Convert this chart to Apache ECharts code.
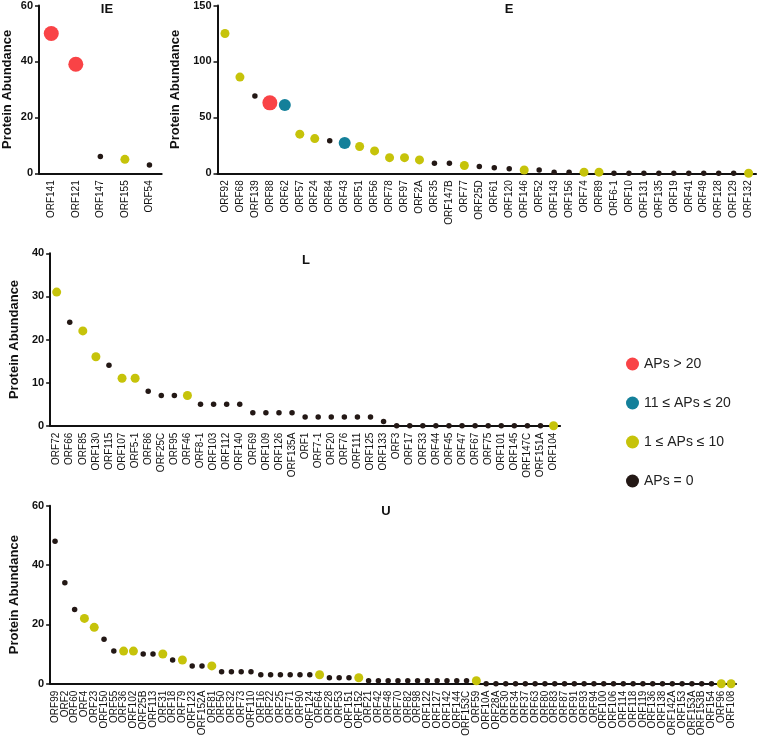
<!DOCTYPE html>
<html>
<head>
<meta charset="utf-8">
<script src="https://cdn.jsdelivr.net/npm/echarts@6/dist/echarts.min.js"></script>
<style>
html,body{margin:0;padding:0;background:#fff;}
#chart{width:757px;height:741px;}
</style>
</head>
<body>
<div id="chart"></div>
<script>
// Legend groups: 0 = APs > 20, 1 = 11 ≤ APs ≤ 20, 2 = 1 ≤ APs ≤ 10, 3 = APs = 0
const groupNames = ['APs > 20', '11 \u2264 APs \u2264 20', '1 \u2264 APs \u2264 10', 'APs = 0'];
const groupColors = ['#F94346', '#14809A', '#C6C30A', '#231815'];
const groupSizes = [15, 12, 9, 5.5];

const panelTitles = ['IE', 'E', 'L', 'U'];

const ieCats = ['ORF141', 'ORF121', 'ORF147', 'ORF155', 'ORF54'];
const ieVals = [50, 39, 6, 5, 3];
const ieGroups = [0, 0, 3, 2, 3];
const ieTicks = [0, 20, 40, 60];

const eCats = ['ORF92', 'ORF68', 'ORF139', 'ORF88', 'ORF62', 'ORF57', 'ORF24', 'ORF84', 'ORF43', 'ORF51',
  'ORF56', 'ORF78', 'ORF97', 'ORF2A', 'ORF35', 'ORF147B', 'ORF77', 'ORF25D', 'ORF61', 'ORF120',
  'ORF146', 'ORF52', 'ORF143', 'ORF156', 'ORF74', 'ORF89', 'ORF6-1', 'ORF10', 'ORF131', 'ORF135',
  'ORF19', 'ORF41', 'ORF49', 'ORF128', 'ORF129', 'ORF132'];
const eVals = [125, 86, 69, 63, 61, 35, 31, 29, 27, 24,
  20, 14, 14, 12, 9, 9, 7, 6, 5, 4,
  3, 3, 1, 1, 1, 1, 0, 0, 0, 0,
  0, 0, 0, 0, 0, 0];
const eGroups = [2, 2, 3, 0, 1, 2, 2, 3, 1, 2,
  2, 2, 2, 2, 3, 3, 2, 3, 3, 3,
  2, 3, 3, 3, 2, 2, 3, 3, 3, 3,
  3, 3, 3, 3, 3, 2];
const eTicks = [0, 50, 100, 150];

const lCats = ['ORF72', 'ORF66', 'ORF85', 'ORF130', 'ORF115', 'ORF107', 'ORF5-1', 'ORF86', 'ORF25C', 'ORF95',
  'ORF46', 'ORF8-1', 'ORF103', 'ORF112', 'ORF140', 'ORF69', 'ORF109', 'ORF126', 'ORF135A', 'ORF1',
  'ORF7-1', 'ORF20', 'ORF76', 'ORF111', 'ORF125', 'ORF133', 'ORF3', 'ORF17', 'ORF33', 'ORF44',
  'ORF45', 'ORF47', 'ORF67', 'ORF75', 'ORF101', 'ORF145', 'ORF147C', 'ORF151A', 'ORF104'];
const lVals = [31, 24, 22, 16, 14, 11, 11, 8, 7, 7,
  7, 5, 5, 5, 5, 3, 3, 3, 3, 2,
  2, 2, 2, 2, 2, 1, 0, 0, 0, 0,
  0, 0, 0, 0, 0, 0, 0, 0, 0];
const lGroups = [2, 3, 2, 2, 3, 2, 2, 3, 3, 3,
  2, 3, 3, 3, 3, 3, 3, 3, 3, 3,
  3, 3, 3, 3, 3, 3, 3, 3, 3, 3,
  3, 3, 3, 3, 3, 3, 3, 3, 2];
const lTicks = [0, 10, 20, 30, 40];

const uCats = ['ORF99', 'ORF2', 'ORF60', 'ORF4', 'ORF23', 'ORF150', 'ORF55', 'ORF36', 'ORF102', 'ORF25B',
  'ORF113', 'ORF31', 'ORF18', 'ORF79', 'ORF123', 'ORF152A', 'ORF81', 'ORF50', 'ORF32', 'ORF73',
  'ORF110', 'ORF16', 'ORF22', 'ORF25', 'ORF71', 'ORF90', 'ORF124', 'ORF64', 'ORF28', 'ORF53',
  'ORF151', 'ORF152', 'ORF21', 'ORF42', 'ORF48', 'ORF70', 'ORF82', 'ORF98', 'ORF122', 'ORF127',
  'ORF142', 'ORF144', 'ORF153C', 'ORF59', 'ORF10A', 'ORF28A', 'ORF30', 'ORF34', 'ORF37', 'ORF63',
  'ORF80', 'ORF83', 'ORF87', 'ORF91', 'ORF93', 'ORF94', 'ORF100', 'ORF106', 'ORF114', 'ORF118',
  'ORF119', 'ORF136', 'ORF138', 'ORF142A', 'ORF153', 'ORF153A', 'ORF153B', 'ORF154', 'ORF96', 'ORF108'];
const uVals = [48, 34, 25, 22, 19, 15, 11, 11, 11, 10,
  10, 10, 8, 8, 6, 6, 6, 4, 4, 4,
  4, 3, 3, 3, 3, 3, 3, 3, 2, 2,
  2, 2, 1, 1, 1, 1, 1, 1, 1, 1,
  1, 1, 1, 1, 0, 0, 0, 0, 0, 0,
  0, 0, 0, 0, 0, 0, 0, 0, 0, 0,
  0, 0, 0, 0, 0, 0, 0, 0, 0, 0];
const uGroups = [3, 3, 3, 2, 2, 3, 3, 2, 2, 3,
  3, 2, 3, 2, 3, 3, 2, 3, 3, 3,
  3, 3, 3, 3, 3, 3, 3, 2, 3, 3,
  3, 2, 3, 3, 3, 3, 3, 3, 3, 3,
  3, 3, 3, 2, 3, 3, 3, 3, 3, 3,
  3, 3, 3, 3, 3, 3, 3, 3, 3, 3,
  3, 3, 3, 3, 3, 3, 3, 3, 2, 2];
const uTicks = [0, 20, 40, 60];

const FONT = '"Liberation Sans", Arial, Helvetica, sans-serif';

const panels = [
  {cats: ieCats, vals: ieVals, groups: ieGroups, ticks: ieTicks,
   grid: {left: 38.3, top: 4, width: 123.4, height: 169.3}, nameGap: 25,
   title: {x: 107, y: 3}},
  {cats: eCats, vals: eVals, groups: eGroups, ticks: eTicks,
   grid: {left: 217.5, top: 4.7, width: 538.6, height: 168.6}, nameGap: 31,
   title: {x: 509, y: 3}},
  {cats: lCats, vals: lVals, groups: lGroups, ticks: lTicks,
   grid: {left: 38.3, top: 253.3, width: 521.8, height: 172.4}, nameGap: 27,
   title: {x: 306, y: 253.5}},
  {cats: uCats, vals: uVals, groups: uGroups, ticks: uTicks,
   grid: {left: 39, top: 505.7, width: 697, height: 178}, nameGap: 28,
   title: {x: 386, y: 505}}
];

const grids = [], xAxes = [], yAxes = [], series = [], titles = [];
panels.forEach((p, pi) => {
  grids.push(Object.assign({containLabel: false}, p.grid));
  titles.push({
    text: panelTitles[pi], left: p.title.x, top: p.title.y, textAlign: 'center', padding: 0,
    textStyle: {fontFamily: FONT, fontSize: 13, fontWeight: 'bold', color: '#111'}
  });
  xAxes.push({
    type: 'category', gridIndex: pi, data: p.cats, boundaryGap: true,
    axisLine: {lineStyle: {color: '#111', width: 2}},
    axisTick: {alignWithLabel: true, length: 4, lineStyle: {color: '#111', width: 1.5}},
    axisLabel: {interval: 0, rotate: 90, margin: 7, fontSize: 10, fontFamily: FONT, color: '#111'},
    splitLine: {show: false}
  });
  const tk = p.ticks;
  yAxes.push({
    type: 'value', gridIndex: pi, min: tk[0], max: tk[tk.length - 1], interval: tk[1] - tk[0],
    name: 'Protein Abundance', nameLocation: 'middle', nameGap: p.nameGap, nameRotate: 90,
    nameTextStyle: {fontFamily: FONT, fontSize: 13, fontWeight: 'bold', color: '#111'},
    axisLine: {show: true, lineStyle: {color: '#111', width: 2}},
    axisTick: {show: true, length: 4, lineStyle: {color: '#111', width: 1.5}},
    axisLabel: {margin: 6, fontSize: 11, fontWeight: 'bold', fontFamily: FONT, color: '#111'},
    splitLine: {show: false}
  });
  for (let g = 0; g < 4; g++) {
    const data = [];
    p.vals.forEach((v, i) => { if (p.groups[i] === g) data.push([i, v]); });
    series.push({
      type: 'scatter', name: groupNames[g], xAxisIndex: pi, yAxisIndex: pi,
      data: data, symbol: 'circle', symbolSize: groupSizes[g], clip: false,
      itemStyle: {color: groupColors[g], opacity: 1},
      z: 3 + g,
      emphasis: {disabled: true}
    });
  }
});

const chart = echarts.init(document.getElementById('chart'), null, {renderer: 'canvas'});
chart.setOption({
  animation: false,
  backgroundColor: '#fff',
  title: titles,
  legend: {
    data: groupNames, orient: 'vertical', left: 621, top: 352,
    icon: 'circle', itemWidth: 13, itemHeight: 13, itemGap: 25,
    textStyle: {fontFamily: FONT, fontSize: 14, color: '#222'},
    selectedMode: false
  },
  grid: grids,
  xAxis: xAxes,
  yAxis: yAxes,
  series: series
});
</script>
</body>
</html>
